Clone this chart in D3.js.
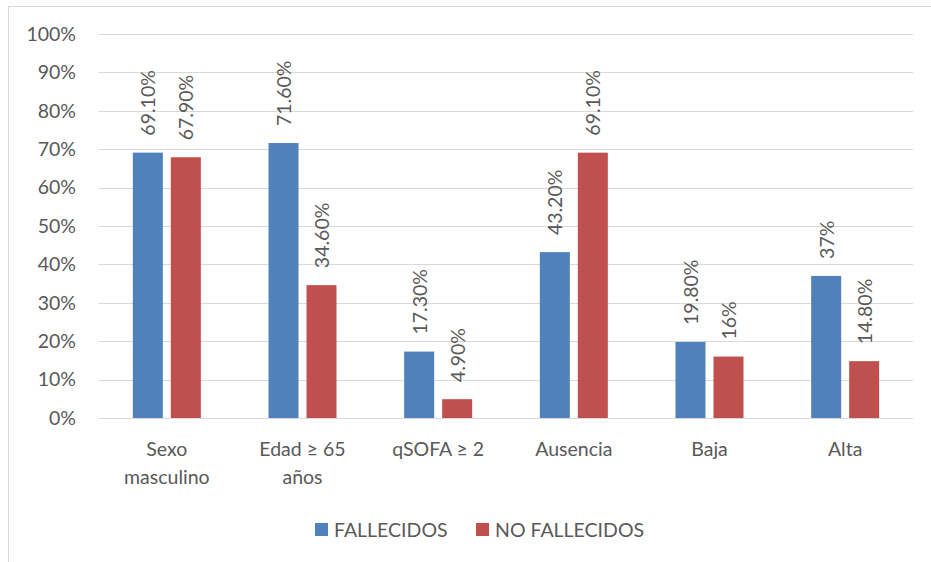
<!DOCTYPE html>
<html>
<head>
<meta charset="utf-8">
<script src="https://cdn.jsdelivr.net/npm/d3@7"></script>
<style>
  html, body { margin: 0; padding: 0; background: #fff; overflow: hidden; }
  svg text { font-family: Lato, "Open Sans", sans-serif; fill: #595959; }
</style>
</head>
<body>
<svg id="chart" width="931" height="562"></svg>
<script>
// Categories (multi-line labels split on "\n")
const categories = ["Sexo\nmasculino", "Edad ≥ 65\naños", "qSOFA ≥ 2", "Ausencia", "Baja", "Alta"];
const seriesNames = ["FALLECIDOS", "NO FALLECIDOS"];
const fallecidos = [69.1, 71.6, 17.3, 43.2, 19.8, 37];
const noFallecidos = [67.9, 34.6, 4.9, 69.1, 16, 14.8];
const fallecidosLabels = ["69.10%", "71.60%", "17.30%", "43.20%", "19.80%", "37%"];
const noFallecidosLabels = ["67.90%", "34.60%", "4.90%", "69.10%", "16%", "14.80%"];
const yTicks = [0, 10, 20, 30, 40, 50, 60, 70, 80, 90, 100];
const colors = ["#4F81BD", "#C0504D"];

const FS = 19.5;
const svg = d3.select("#chart");

// outer chart frame (continues past the right and bottom edges)
svg.append("rect")
  .attr("x", 8.5).attr("y", 6.5)
  .attr("width", 940).attr("height", 580)
  .attr("fill", "none").attr("stroke", "#D9D9D9").attr("stroke-width", 1);

const plot = { left: 99, right: 913, top: 34, bottom: 418 };

const x = d3.scaleBand().domain(categories).range([plot.left, plot.right]).paddingInner(0).paddingOuter(0);
const y = d3.scaleLinear().domain([0, 100]).range([plot.bottom, plot.top]);

const barW = 30, barGap = 8;
const offsets = [-(barW + barGap) / 2, (barW + barGap) / 2];

// gridlines
svg.append("g").selectAll("line").data(yTicks).join("line")
  .attr("x1", plot.left).attr("x2", plot.right)
  .attr("y1", d => Math.round(y(d)) + 0.5).attr("y2", d => Math.round(y(d)) + 0.5)
  .attr("stroke", "#D9D9D9").attr("stroke-width", 1);

// y axis labels
const yAxis = d3.axisLeft(y).tickValues(yTicks).tickFormat(d => d + "%").tickSize(0).tickPadding(0);
const yg = svg.append("g").attr("transform", `translate(${76},0)`).call(yAxis);
yg.select(".domain").remove();
yg.selectAll("text").attr("font-size", FS).attr("fill", "#595959")
  .style("font-family", "Lato, sans-serif");

// bars
const series = [fallecidos, noFallecidos];
const labels = [fallecidosLabels, noFallecidosLabels];
series.forEach((vals, si) => {
  const g = svg.append("g");
  g.selectAll("rect").data(vals).join("rect")
    .attr("x", (d, i) => x(categories[i]) + x.bandwidth() / 2 + offsets[si] - barW / 2)
    .attr("y", d => y(d))
    .attr("width", barW)
    .attr("height", d => y(0) - y(d))
    .attr("fill", colors[si]);

  // value labels, rotated
  g.selectAll("text").data(vals).join("text")
    .attr("transform", (d, i) => {
      const cx = x(categories[i]) + x.bandwidth() / 2 + offsets[si];
      return `translate(${cx},${y(d) - 17}) rotate(-90)`;
    })
    .attr("dominant-baseline", "central")
    .attr("text-anchor", "start")
    .attr("font-size", FS)
    .text((d, i) => labels[si][i]);
});

// category labels
const xg = svg.append("g");
categories.forEach(c => {
  const lines = c.split("\n");
  const t = xg.append("text")
    .attr("x", x(c) + x.bandwidth() / 2)
    .attr("y", 456)
    .attr("text-anchor", "middle")
    .attr("font-size", FS);
  lines.forEach((l, i) => {
    t.append("tspan").attr("x", x(c) + x.bandwidth() / 2).attr("dy", i === 0 ? 0 : 28).text(l);
  });
});

// legend
const legendItems = [
  { name: seriesNames[0], color: colors[0], sx: 315 },
  { name: seriesNames[1], color: colors[1], sx: 476 }
];
const lg = svg.append("g");
legendItems.forEach(it => {
  lg.append("rect").attr("x", it.sx).attr("y", 523).attr("width", 13).attr("height", 13).attr("fill", it.color);
  lg.append("text").attr("x", it.sx + 19).attr("y", 537).attr("font-size", FS).text(it.name);
});
</script>
</body>
</html>
